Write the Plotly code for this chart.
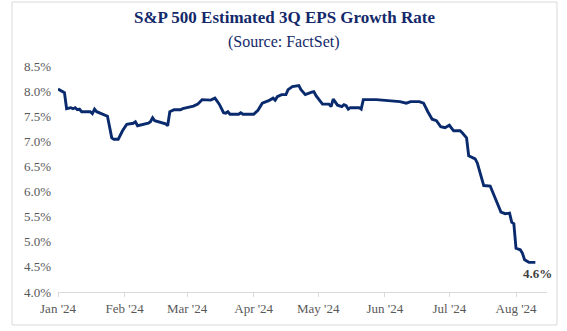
import plotly.graph_objects as go

dates = [
    "2024-01-01", "2024-01-03", "2024-01-04", "2024-01-05", "2024-01-07", "2024-01-08",
    "2024-01-09", "2024-01-10", "2024-01-11", "2024-01-12", "2024-01-16", "2024-01-17",
    "2024-01-18", "2024-01-19", "2024-01-22", "2024-01-24", "2024-01-26", "2024-01-27",
    "2024-01-29", "2024-01-31",
    "2024-02-02", "2024-02-05", "2024-02-06", "2024-02-07", "2024-02-12", "2024-02-13",
    "2024-02-14", "2024-02-15", "2024-02-20", "2024-02-21", "2024-02-22", "2024-02-24",
    "2024-02-27", "2024-02-28",
    "2024-03-02", "2024-03-04", "2024-03-06", "2024-03-08", "2024-03-12", "2024-03-13",
    "2024-03-14", "2024-03-16", "2024-03-18", "2024-03-19", "2024-03-20", "2024-03-21",
    "2024-03-25", "2024-03-26", "2024-03-27",
    "2024-04-01", "2024-04-02", "2024-04-03", "2024-04-05", "2024-04-08", "2024-04-10",
    "2024-04-11", "2024-04-12", "2024-04-14", "2024-04-16", "2024-04-17", "2024-04-19",
    "2024-04-22", "2024-04-23", "2024-04-25", "2024-04-28", "2024-04-29", "2024-04-30",
    "2024-05-03", "2024-05-06", "2024-05-07", "2024-05-08", "2024-05-10", "2024-05-12",
    "2024-05-13", "2024-05-14", "2024-05-15", "2024-05-16", "2024-05-20", "2024-05-21",
    "2024-05-22", "2024-05-28",
    "2024-06-03", "2024-06-08", "2024-06-11", "2024-06-13", "2024-06-17", "2024-06-19",
    "2024-06-21", "2024-06-23", "2024-06-25", "2024-06-27", "2024-06-29",
    "2024-07-01", "2024-07-03", "2024-07-06", "2024-07-07", "2024-07-09", "2024-07-10",
    "2024-07-13", "2024-07-14", "2024-07-16", "2024-07-17", "2024-07-20", "2024-07-22",
    "2024-07-25", "2024-07-27", "2024-07-29", "2024-07-30", "2024-07-31",
    "2024-08-01", "2024-08-03", "2024-08-04", "2024-08-05", "2024-08-07", "2024-08-10",
]

growth = [
    8.04, 8.00, 7.97, 7.65, 7.67, 7.65,
    7.67, 7.63, 7.64, 7.59, 7.59, 7.55,
    7.64, 7.59, 7.53, 7.50, 7.07, 7.04,
    7.04, 7.21,
    7.34, 7.36, 7.39, 7.31, 7.36, 7.39,
    7.47, 7.41, 7.35, 7.31, 7.59, 7.63,
    7.63, 7.65,
    7.68, 7.70, 7.74, 7.83, 7.82, 7.84,
    7.86, 7.74, 7.57, 7.56, 7.59, 7.54,
    7.54, 7.57, 7.54,
    7.54, 7.59, 7.62, 7.76, 7.81, 7.86,
    7.82, 7.89, 7.93, 7.93, 8.03, 8.09,
    8.11, 8.03, 7.93, 7.98, 7.99, 7.91,
    7.74, 7.74, 7.69, 7.84, 7.72, 7.69,
    7.73, 7.71, 7.64, 7.67, 7.67, 7.64,
    7.83, 7.83,
    7.81, 7.79, 7.76, 7.79, 7.79, 7.76,
    7.59, 7.44, 7.41, 7.29, 7.27,
    7.32, 7.21, 7.21, 7.17, 7.07, 6.71,
    6.65, 6.57, 6.25, 6.12, 6.11, 5.91,
    5.59, 5.56, 5.57, 5.39, 5.36,
    4.87, 4.84, 4.77, 4.64, 4.59, 4.59,
]

tick_dates = ["2024-01-01", "2024-02-01", "2024-03-01", "2024-04-01",
              "2024-05-01", "2024-06-01", "2024-07-01", "2024-08-01"]
tick_labels = ["Jan '24", "Feb '24", "Mar '24", "Apr '24",
               "May '24", "Jun '24", "Jul '24", "Aug '24"]
y_ticks = [4.0, 4.5, 5.0, 5.5, 6.0, 6.5, 7.0, 7.5, 8.0, 8.5]
y_labels = [f"{v:.1f}%" for v in y_ticks]

title = "S&P 500 Estimated 3Q EPS Growth Rate"
subtitle = "(Source: FactSet)"
last_label = "4.6%"

FONT = "Liberation Serif"
NAVY = "#13296a"

fig = go.Figure()
fig.add_trace(go.Scatter(
    x=dates, y=growth, mode="lines",
    line=dict(color="#0a2a6e", width=2.9),
    hoverinfo="skip",
))

fig.add_annotation(
    x=dates[-1], y=growth[-1], xref="x", yref="y",
    text="<b>" + last_label + "</b>", showarrow=False,
    font=dict(family=FONT, size=13, color="#404040"),
    xanchor="center", yanchor="top", xshift=2, yshift=-2,
)

fig.add_annotation(
    x=0.463, y=1.215, xref="paper", yref="paper",
    text="<b>" + title + "</b>", showarrow=False,
    font=dict(family=FONT, size=17, color=NAVY),
    xanchor="center", yanchor="middle",
)
fig.add_annotation(
    x=0.463, y=1.108, xref="paper", yref="paper",
    text=subtitle, showarrow=False,
    font=dict(family=FONT, size=16, color=NAVY),
    xanchor="center", yanchor="middle",
)

fig.add_shape(
    type="rect", xref="paper", yref="paper",
    x0=-0.094, x1=1.0204, y0=-0.146, y1=1.283,
    line=dict(color="#d9d9d9", width=1), fillcolor="rgba(0,0,0,0)",
    layer="below",
)

fig.update_layout(
    width=567, height=331,
    margin=dict(l=58, r=20, t=66, b=39),
    paper_bgcolor="white", plot_bgcolor="white",
    showlegend=False,
    xaxis=dict(
        type="date",
        range=["2024-01-01", "2024-08-15 10:00"],
        tickvals=tick_dates, ticktext=tick_labels,
        showgrid=False, zeroline=False,
        showline=True, linecolor="#d9d9d9", linewidth=1,
        ticks="outside", ticklen=4, tickcolor="#d9d9d9",
        tickfont=dict(family=FONT, size=13, color="#595959"),
    ),
    yaxis=dict(
        range=[4.0, 8.5],
        tickvals=y_ticks, ticktext=y_labels,
        showgrid=False, zeroline=False, showline=False,
        ticks="", ticklabelstandoff=6,
        tickfont=dict(family=FONT, size=13, color="#595959"),
    ),
)

fig.write_html("out.html")
